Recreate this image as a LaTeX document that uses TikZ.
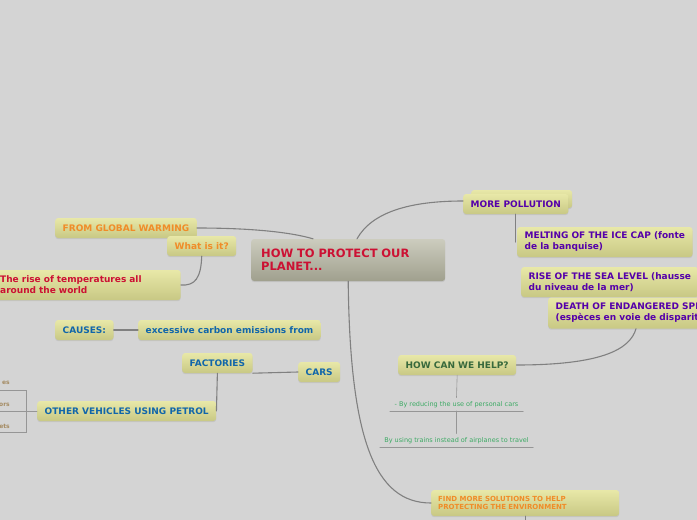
\documentclass[tikz,border=0pt]{standalone}
\usepackage{fontspec}
\setmainfont{DejaVu Sans}
\usetikzlibrary{shadows}
\definecolor{paper}{RGB}{212,212,212}
\definecolor{khakitop}{RGB}{232,232,168}
\definecolor{khakibot}{RGB}{200,200,132}
\definecolor{hubtop}{RGB}{204,204,190}
\definecolor{hubbot}{RGB}{160,160,142}
\definecolor{hubred}{RGB}{204,17,51}
\definecolor{warmorange}{RGB}{240,140,40}
\definecolor{polpurple}{RGB}{85,0,170}
\definecolor{causeblue}{RGB}{17,102,170}
\definecolor{helpgreen}{RGB}{55,105,60}
\definecolor{ideagreen}{RGB}{60,170,100}
\definecolor{linkgray}{RGB}{128,128,128}
\definecolor{bracegray}{RGB}{150,150,150}
\definecolor{fragbrown}{RGB}{165,140,100}
\begin{document}
\begin{tikzpicture}[x=1pt,y=-1pt,line cap=round]
	\tikzset{
		topic/.style={anchor=west,rounded corners=3pt,top color=khakitop,bottom color=khakibot,
			inner xsep=7.5pt,inner ysep=4pt,minimum height=20pt,align=left,
			font=\bfseries\fontsize{9}{11}\selectfont,
			drop shadow={shadow xshift=0pt,shadow yshift=-1.2pt,opacity=.18}},
		idea/.style={anchor=south,font=\fontsize{6.5}{7.5}\selectfont,text=ideagreen,inner sep=1.5pt,minimum height=13pt},
		frag/.style={anchor=east,font=\bfseries\fontsize{6}{7}\selectfont,text=fragbrown,inner sep=0pt},
		link/.style={draw=linkgray,line width=1.1pt},
		brace/.style={draw=bracegray,line width=.6pt}
	}
	\path[use as bounding box,fill=paper] (0,0) rectangle (697,520);
	\clip (0,0) rectangle (697,520);
	\node[topic,top color=hubtop,bottom color=hubbot,text=hubred,font=\bfseries\fontsize{11.5}{13}\selectfont,
		text width=174pt,inner xsep=10pt,minimum height=42pt] (hub) at (251,260) {HOW TO PROTECT OUR\\PLANET...};
	\node[topic,text=warmorange] (fgw) at (55,228) {FROM GLOBAL WARMING};
	\node[topic,text=warmorange] (whatis) at (167,246) {What is it?};
	\node[topic,text=hubred,text width=173pt,minimum height=30pt] (rise) at (-7.5,285) {The rise of temperatures all\\around the world};
	\node[topic,minimum width=101pt,minimum height=18pt] (pollutionback) at (471,199) {};
	\node[topic,text=polpurple] (pollution) at (463,204) {MORE POLLUTION};
	\node[topic,text=polpurple,minimum height=30pt] (melting) at (517,242) {MELTING OF THE ICE CAP (fonte\\de la banquise)};
	\node[topic,text=polpurple,minimum height=30pt] (sealevel) at (521,282) {RISE OF THE SEA LEVEL (hausse\\du niveau de la mer)};
	\node[topic,text=polpurple,minimum height=31pt] (death) at (548,313) {DEATH OF ENDANGERED SPECIES\\(espèces en voie de disparition)};
	\node[topic,text=causeblue] (causes) at (55,330) {CAUSES:};
	\node[topic,text=causeblue] (carbon) at (138,330) {excessive carbon emissions from};
	\node[topic,text=causeblue] (factories) at (182,363) {FACTORIES};
	\node[topic,text=causeblue] (cars) at (298,372) {CARS};
	\node[topic,text=causeblue] (othervehicles) at (37,411) {OTHER VEHICLES USING PETROL};
	\node[topic,text=helpgreen] (help) at (398,365) {HOW CAN WE HELP?};
	\node[idea,minimum width=133pt] (reduce) at (456.5,411) {- By reducing the use of personal cars};
	\node[idea,minimum width=153pt] (trains) at (456.5,447) {By using trains instead of airplanes to travel};
	\node[topic,text=warmorange,font=\bfseries\fontsize{7}{8}\selectfont,text width=174pt,inner xsep=7pt,minimum height=26pt] (findmore) at (431,503) {FIND MORE SOLUTIONS TO HELP\\PROTECTING THE ENVIRONMENT};
	\node[frag] (fragA) at (10,383) {es};
	\node[frag] (fragB) at (10,405) {ors};
	\node[frag] (fragC) at (10,426) {ets};
	\coordinate (bracket) at (26,411);
	\coordinate (deathfoot) at ([xshift=88pt]death.south west);
	\draw[link] ([xshift=62pt]hub.north west) .. controls (290,232) and (250,228) .. (fgw.east);
	\draw[link] ([xshift=106pt]hub.north west) .. controls (372,212) and (410,201) .. ([yshift=3pt]pollution.west);
	\draw[link] (whatis.south) .. controls (201,278) and (195,286) .. (rise.east);
	\draw[link] (pollution.south) -- (pollution.south |- melting.west);
	\draw[link] (help.east) .. controls (600,365) and (630,350) .. (deathfoot);
	\draw[link] (hub.south) .. controls (350,440) and (375,503) .. (findmore.west);
	\draw[link] (findmore.south) -- ++(0,6);
	\draw[link] (causes.east) -- (carbon.west);
	\draw[link] (factories.south east) -- (cars.west);
	\draw[link] (factories.south) -- (othervehicles.east);
	\draw[brace] (othervehicles.west) -- (bracket);
	\draw[brace] (0,390) -| (26,432) -- (0,432);
	\draw[brace] (0,411) -- (bracket);
	\draw[bracegray,line width=.6pt] (reduce.south west) -- (reduce.south east) (trains.south west) -- (trains.south east);
	\draw[bracegray,line width=.6pt] (help.south) -- (reduce.north) (reduce.south) -- (trains.north);
\end{tikzpicture}
\end{document}
